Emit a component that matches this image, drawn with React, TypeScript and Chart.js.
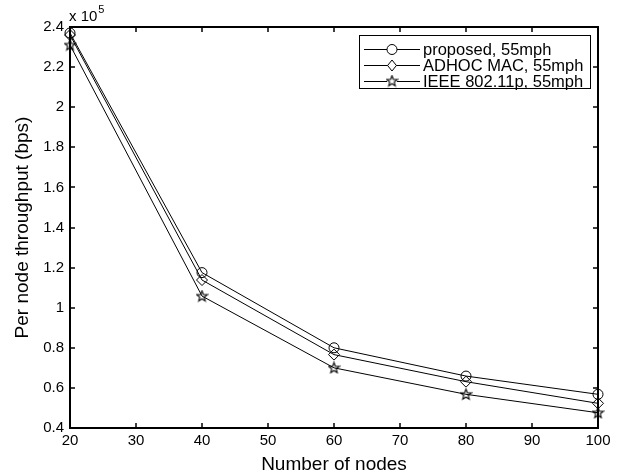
import React, { useEffect, useRef } from "react";
import { Chart, registerables } from "chart.js";

Chart.register(...registerables);

const nodes = [20, 40, 60, 80, 100];
const proposed = [237000, 117500, 80000, 65900, 56800];
const adhoc = [236000, 113800, 76600, 63100, 52300];
const ieee = [231000, 105800, 70000, 56800, 47600];
const seriesNames = ["proposed, 55mph", "ADHOC MAC, 55mph", "IEEE 802.11p, 55mph"];
const xTicks = [20, 30, 40, 50, 60, 70, 80, 90, 100];
const yTicks = [40000, 60000, 80000, 100000, 120000, 140000, 160000, 180000, 200000, 220000, 240000];

const FONT = "'Liberation Sans', Arial, sans-serif";

function makeStar(): HTMLCanvasElement {
  const c = document.createElement("canvas");
  c.width = 13;
  c.height = 13;
  const ctx = c.getContext("2d")!;
  const cx = 6.5, cy = 6.8, Ro = 5.6, ri = 2.4;
  ctx.beginPath();
  for (let i = 0; i < 10; i++) {
    const rad = i % 2 === 0 ? Ro : ri;
    const ang = -Math.PI / 2 + (i * Math.PI) / 5;
    const x = cx + rad * Math.cos(ang);
    const y = cy + rad * Math.sin(ang);
    if (i === 0) ctx.moveTo(x, y);
    else ctx.lineTo(x, y);
  }
  ctx.closePath();
  ctx.strokeStyle = "#000";
  ctx.lineWidth = 1.1;
  ctx.stroke();
  return c;
}

export default function App() {
  const ref = useRef<HTMLCanvasElement | null>(null);
  useEffect(() => {
    if (!ref.current) return;
    const star = makeStar();
    const styles: any[] = ["circle", "rectRot", star];
    const radii = [5, 5.5, 6];

    const framePlugin = {
      id: "frame",
      afterDraw(chart: any) {
        const ctx = chart.ctx;
        const sx = chart.scales.x;
        const sy = chart.scales.y;
        const L = Math.round(sx.getPixelForValue(xTicks[0]));
        const Rt = Math.round(sx.getPixelForValue(xTicks[xTicks.length - 1]));
        const T = Math.round(sy.getPixelForValue(yTicks[yTicks.length - 1]));
        const B = Math.round(sy.getPixelForValue(yTicks[0]));
        ctx.save();
        ctx.strokeStyle = "#000";
        ctx.lineWidth = 2;
        ctx.beginPath();
        ctx.moveTo(L, T);
        ctx.lineTo(Rt, T);
        ctx.lineTo(Rt, B);
        ctx.lineTo(L, B);
        ctx.closePath();
        ctx.stroke();
        const tl = 5;
        ctx.lineWidth = 1.5;
        ctx.beginPath();
        for (const t of xTicks) {
          const x = Math.round(sx.getPixelForValue(t));
          ctx.moveTo(x, B);
          ctx.lineTo(x, B - tl);
          ctx.moveTo(x, T);
          ctx.lineTo(x, T + tl);
        }
        for (const t of yTicks) {
          const y = Math.round(sy.getPixelForValue(t));
          ctx.moveTo(L, y);
          ctx.lineTo(L + tl, y);
          ctx.moveTo(Rt, y);
          ctx.lineTo(Rt - tl, y);
        }
        ctx.stroke();

        // exponent label
        ctx.fillStyle = "#000";
        ctx.textBaseline = "alphabetic";
        ctx.textAlign = "left";
        ctx.font = `15px ${FONT}`;
        ctx.fillText("x 10", 69, 21);
        const w = ctx.measureText("x 10").width;
        ctx.font = `11px ${FONT}`;
        ctx.fillText("5", 69 + w + 1, 13);

        // legend
        ctx.strokeStyle = "#000";
        ctx.lineWidth = 1;
        const bx = 359.5, by = 35.5, bw = 231, bh = 53;
        ctx.fillStyle = "#fff";
        ctx.fillRect(bx, by, bw, bh);
        ctx.strokeRect(bx, by, bw, bh);
        const rows = [49.5, 65.5, 81.5];
        ctx.font = `16.5px ${FONT}`;
        ctx.textBaseline = "middle";
        for (let i = 0; i < 3; i++) {
          const y = rows[i];
          ctx.beginPath();
          ctx.moveTo(364, y);
          ctx.lineTo(420, y);
          ctx.stroke();
          const style = styles[i];
          if (style === "circle") {
            ctx.beginPath();
            ctx.arc(392, y, radii[i], 0, Math.PI * 2);
            ctx.fillStyle = "#fff";
            ctx.fill();
            ctx.stroke();
          } else if (style === "rectRot") {
            const r = radii[i];
            ctx.beginPath();
            ctx.moveTo(392, y - r);
            ctx.lineTo(392 + r * 0.8, y);
            ctx.lineTo(392, y + r);
            ctx.lineTo(392 - r * 0.8, y);
            ctx.closePath();
            ctx.fillStyle = "#fff";
            ctx.fill();
            ctx.stroke();
          } else {
            ctx.fillStyle = "#fff";
            ctx.fillRect(387, y - 5, 10, 10);
            ctx.drawImage(star, 392 - 6.5, y - 7);
          }
          ctx.fillStyle = "#000";
          ctx.fillText(seriesNames[i], 423, y + 0.5);
        }
        ctx.restore();
      },
    };

    const all = [proposed, adhoc, ieee];
    const chart = new Chart(ref.current, {
      type: "line",
      data: {
        datasets: all.map((arr, i) => ({
          label: seriesNames[i],
          data: nodes.map((n, j) => ({ x: n, y: arr[j] })),
          borderColor: "#000",
          borderWidth: 1,
          pointStyle: styles[i],
          pointRadius: radii[i],
          pointBorderColor: "#000",
          pointBorderWidth: 1,
          pointBackgroundColor: "rgba(0,0,0,0)",
          tension: 0,
          fill: false,
          clip: false as any,
        })),
      },
      options: {
        animation: false,
        responsive: false,
        maintainAspectRatio: false,
        layout: { padding: { top: 27, right: 31, left: 0, bottom: 0 } },
        plugins: { legend: { display: false }, tooltip: { enabled: false } },
        scales: {
          x: {
            type: "linear",
            min: 20,
            max: 100,
            afterFit: (s: any) => { s.height = 48; },
            afterBuildTicks: (s: any) => { s.ticks = xTicks.map((v) => ({ value: v })); },
            grid: { display: false, drawTicks: false },
            border: { display: false },
            ticks: { color: "#000", font: { family: FONT, size: 15 }, padding: 4, maxRotation: 0, callback: (v: any) => String(v) },
            title: { display: true, text: "Number of nodes", color: "#000", font: { family: FONT, size: 19 }, padding: { top: 0, bottom: 0 } },
          },
          y: {
            type: "linear",
            min: 40000,
            max: 240000,
            afterFit: (s: any) => { s.width = 70; },
            afterBuildTicks: (s: any) => { s.ticks = yTicks.map((v) => ({ value: v })); },
            grid: { display: false, drawTicks: false },
            border: { display: false },
            ticks: { color: "#000", font: { family: FONT, size: 15 }, padding: 6, callback: (v: any) => String(+(v / 1e5).toFixed(1)) },
            title: { display: true, text: "Per node throughput (bps)", color: "#000", font: { family: FONT, size: 19 }, padding: { top: 11, bottom: 0 } },
          },
        },
      },
      plugins: [framePlugin],
    });
    return () => chart.destroy();
  }, []);
  return (
    <div style={{ position: "fixed", left: 0, top: 0, width: 629, height: 476, background: "#fff" }}>
      <canvas ref={ref} width={629} height={476} style={{ width: 629, height: 476, display: "block" }} />
    </div>
  );
}
